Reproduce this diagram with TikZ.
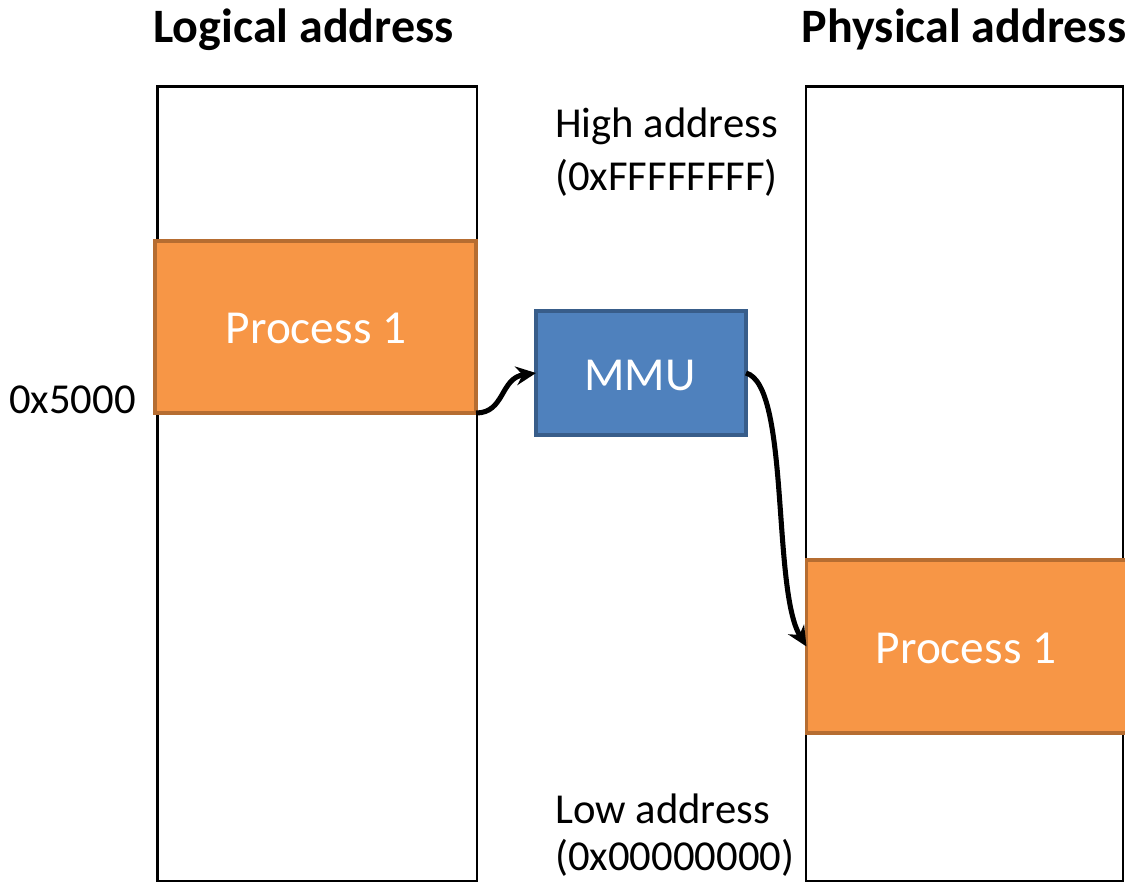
\documentclass[tikz,border=0pt]{standalone}
\usepackage{fontspec}
\setmainfont{Carlito}
\usetikzlibrary{arrows.meta}
\definecolor{orfill}{HTML}{F79646}
\definecolor{ordraw}{HTML}{B66D31}
\definecolor{blfill}{HTML}{4F81BD}
\definecolor{bldraw}{HTML}{385D8A}
\tikzset{
  column/.style={draw=black, line width=2pt, fill=white, inner sep=0pt, outer sep=0pt, anchor=north west},
  procbox/.style={draw=ordraw, fill=orfill, line width=2.8pt, inner sep=0pt, outer sep=0pt, anchor=north west},
  mmubox/.style={draw=bldraw, fill=blfill, line width=2.8pt, inner sep=0pt, outer sep=0pt, anchor=north west},
  lbl/.style={font=\fontsize{32}{38}\selectfont, inner sep=0pt},
  title/.style={font=\fontsize{36}{40}\selectfont\bfseries, inner sep=0pt, anchor=base},
  wtxt/.style={font=\fontsize{35.5}{40}\selectfont, text=white, inner sep=0pt, anchor=base},
  conn/.style={-{Stealth[length=15pt,width=14pt]}, line width=3.8pt, draw=black}
}
\begin{document}
\begin{tikzpicture}[x=0.75pt,y=-0.75pt]
\useasboundingbox[fill=white] (0,0) rectangle (1125,883);
% columns
\node[column, minimum width=239.6pt, minimum height=595.9pt] (lcol) at (157.5,86.5) {};
\node[column, minimum width=237.75pt, minimum height=595.9pt] (rcol) at (806,86.5) {};
% process boxes
\node[procbox, minimum width=240.75pt, minimum height=129pt] (p1) at (155,241) {};
\node[procbox, minimum width=247.5pt, minimum height=129.75pt] (p2) at (806.5,560) {};
\node[mmubox, minimum width=157.5pt, minimum height=93pt] (mmu) at (536,311) {};
% texts
\node[title] (tl) at (303.5,42) {Logical address};
\node[title] (tp) at (964,42) {Physical address};
\node[wtxt] (t1) at (316,343) {Process 1};
\node[wtxt] (t2) at (966,663) {Process 1};
\node[wtxt] (tm) at (640,390) {MMU};
\node[lbl, anchor=base] (addr) at (72.5,413) {0x5000};
\node[lbl, anchor=base west] (hi1) at (555,137) {High address};
\node[lbl, anchor=base west] (hi2) at (555,190) {(0xFFFFFFFF)};
\node[lbl, anchor=base west] (lo1) at (555,823) {Low address};
\node[lbl, anchor=base west] (lo2) at (555,870) {(0x00000000)};
% connectors
\draw[conn] (p1.south east) .. controls (505,413) and (500,378) .. (mmu.west);
\draw[conn] (mmu.east) .. controls (790,385) and (772,590) .. (p2.west);
\end{tikzpicture}
\end{document}
